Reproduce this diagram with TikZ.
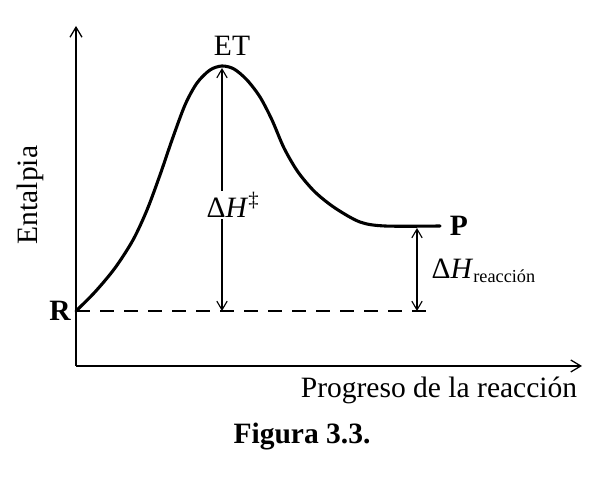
\documentclass[tikz,border=0pt]{standalone}
\usepackage{fontspec}
\setmainfont{Liberation Serif}
\usepackage{tikz}
\usetikzlibrary{arrows.meta,positioning,calc}

\begin{document}
\begin{tikzpicture}[
  x=0.025cm, y=0.025cm,
  axis/.style={-{Straight Barb[length=2.5mm,width=3mm]},line width=0.9pt},
  curve/.style={line width=2.2pt,line cap=round,line join=round},
  level/.style={line width=0.9pt,dash pattern=on 3.6mm off 2.4mm},
  gap/.style={{Straight Barb[length=2.2mm,width=2.6mm]}-{Straight Barb[length=2.2mm,width=2.6mm]},line width=0.8pt},
  lab/.style={font=\fontsize{21}{24}\selectfont,inner sep=1pt}
]
\useasboundingbox (0,0) rectangle (593,480);
% axes
\coordinate (o) at (76,114);
\coordinate (ytop) at (76,454);
\coordinate (xend) at (582,114);
\draw[axis] (o) -- (ytop);
\draw[axis] (o) -- (xend);
% levels
\coordinate (r) at (76,169);
\coordinate (top) at (222,415);
\coordinate (pend) at (440,254);
\coordinate (dend) at (430,169);
\draw[curve] plot[smooth,tension=0.5] coordinates {(76,169) (95,188) (115,212) (133,240)
  (147,270) (160,305) (172,340) (185,375) (197,397) (210,410) (222,414) (234,411)
  (247,400) (260,383) (272,360) (284,332) (298,308) (315,288) (335,272) (360,258)
  (385,254) (440,254)};
\draw[level] (r) -- (dend);
% gaps
\coordinate (ts) at (222,412);
\coordinate (tb) at (222,169);
\coordinate (ps) at (417,252);
\coordinate (pb) at (417,169);
\draw[gap] (tb) -- (ts);
\draw[gap] (pb) -- (ps);
% labels
\node[lab] (et) at (232,434) {ET};
\node[lab,fill=white] (dht) at (233,275) {Δ\textit{H}\textsuperscript{‡}};
\node[lab,font=\fontsize{21}{24}\selectfont\bfseries] (p) at (459,254) {P};
\node[lab,font=\fontsize{21}{24}\selectfont\bfseries] (rl) at (60,169) {R};
\node[lab,anchor=west] (dhr) at (430,209) {Δ\textit{H}\textsubscript{\fontsize{13}{14}\selectfont reacción}};
\node[lab,rotate=90] (ylab) at (30,285) {Entalpia};
\node[lab] (xlab) at (439,90) {Progreso de la reacción};
\node[lab,font=\fontsize{21}{24}\selectfont\bfseries] (fig) at (302,43) {Figura 3.3.};
\end{tikzpicture}
\end{document}
